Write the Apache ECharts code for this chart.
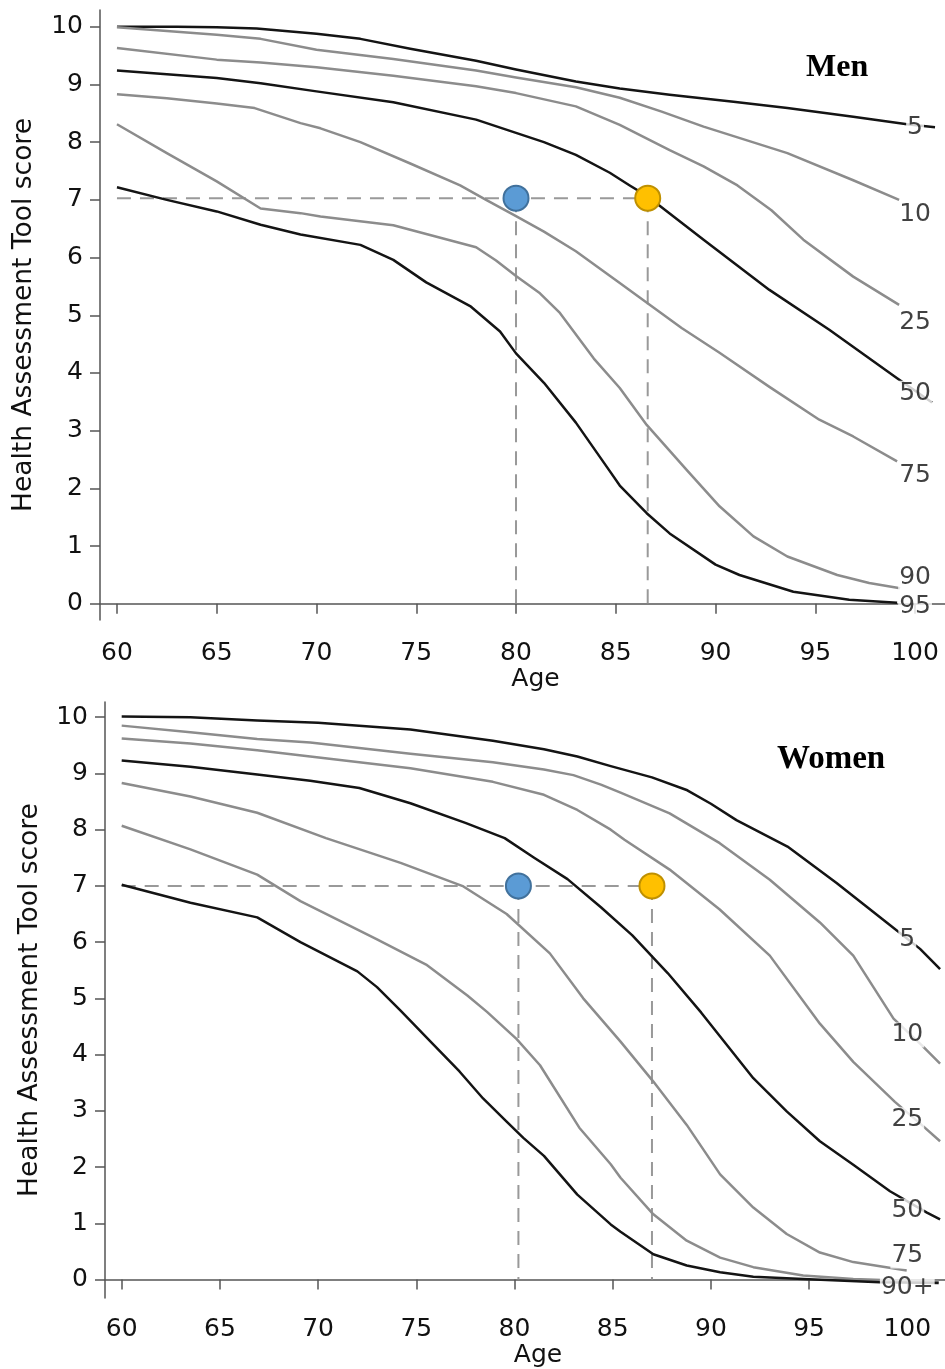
<!DOCTYPE html>
<html>
<head>
<meta charset="utf-8">
<script src="https://cdn.jsdelivr.net/npm/echarts@6/dist/echarts.min.js"></script>
<style>
  html, body { margin: 0; padding: 0; background: #fff; }
  #chart { width: 945px; height: 1369px; }
</style>
</head>
<body>
<div id="chart"></div>
<script>
// tick values
const xTicks = [60, 65, 70, 75, 80, 85, 90, 95, 100]
const yTicks = [0, 1, 2, 3, 4, 5, 6, 7, 8, 9, 10]

// percentile curves, men  [age, score]
const menP5 = [[60,10.0],[63,10.0],[65,9.99],[67,9.97],[70,9.88],[72.2,9.79],[74.7,9.62],[78,9.41],[80,9.26],[83,9.05],[85.2,8.93],[87.7,8.82],[90.9,8.70],[93.6,8.59],[96.9,8.44],[99.6,8.31],[101,8.26]]
const menP10 = [[60,9.99],[65,9.86],[67.2,9.79],[70,9.60],[73.85,9.44],[78,9.24],[80,9.12],[83,8.95],[85.2,8.77],[87.3,8.53],[89.4,8.27],[93.6,7.81],[96.9,7.34],[99.2,7.0]]
const menP25 = [[60,9.63],[65,9.43],[67.2,9.38],[70,9.30],[73.85,9.15],[78,8.97],[80,8.85],[83,8.62],[85.2,8.30],[87.7,7.86],[89.4,7.58],[91.1,7.25],[92.8,6.82],[94.4,6.31],[96.9,5.67],[99.2,5.18]]
const menP50 = [[60,9.24],[65,9.11],[67.2,9.02],[70,8.88],[73.85,8.69],[78,8.39],[80,8.16],[81.4,8.0],[83,7.78],[84.7,7.47],[85.7,7.25],[86.6,7.06],[89.4,6.31],[92.7,5.44],[95.7,4.75],[99.1,3.91],[100.85,3.49]]
const menP75 = [[60,8.83],[62.5,8.76],[65,8.67],[66.9,8.59],[69.2,8.33],[70.2,8.24],[72.2,8.0],[74.7,7.63],[77.2,7.25],[78.5,7.0],[80,6.72],[81.4,6.45],[83,6.11],[85.2,5.56],[88.3,4.78],[90.2,4.35],[92.7,3.76],[95.2,3.19],[96.9,2.90],[99.1,2.47]]
const menP90 = [[60,8.31],[62.5,7.81],[65,7.32],[67.2,6.85],[69.2,6.77],[70.2,6.71],[73.85,6.56],[78,6.18],[79,5.95],[80,5.68],[81.2,5.38],[82.2,5.04],[83.9,4.25],[85.2,3.74],[86.55,3.10],[88.55,2.32],[90.2,1.69],[91.9,1.17],[93.6,0.82],[96.1,0.50],[97.7,0.36],[99.25,0.27]]
const menP95 = [[60,7.22],[62.5,7.0],[65,6.80],[67.2,6.57],[69.2,6.40],[72.2,6.22],[73.85,5.96],[75.5,5.57],[77.7,5.16],[79.2,4.72],[80,4.34],[81.4,3.83],[83,3.14],[84.7,2.30],[85.2,2.05],[86.55,1.57],[87.7,1.22],[90,0.68],[91.2,0.50],[93.9,0.21],[96.7,0.07],[99.1,0.02]]

// percentile curves, women  [age, score]
const womenP5 = [[60,10.01],[63.5,10.0],[66.9,9.94],[70,9.9],[74.7,9.78],[78.9,9.58],[81.5,9.43],[83.2,9.3],[84.9,9.13],[87,8.93],[88.8,8.70],[90,8.46],[91.3,8.17],[93.9,7.70],[96.4,7.05],[98.95,6.35],[100.65,5.88],[101.67,5.52]]
const womenP10 = [[60,9.85],[63.5,9.73],[66.9,9.61],[69.6,9.55],[74.7,9.35],[78.9,9.20],[81.5,9.07],[83,8.97],[84.4,8.8],[85.4,8.66],[87.9,8.29],[90.45,7.76],[93,7.11],[95.55,6.35],[97.25,5.76],[99.3,4.64],[100.73,4.17],[101.67,3.84]]
const womenP25 = [[60,9.62],[63.5,9.53],[66.9,9.41],[69.6,9.30],[74.7,9.09],[78.9,8.85],[81.5,8.62],[83.2,8.35],[84.9,8.0],[85.6,7.82],[87.9,7.29],[90.45,6.58],[93,5.76],[95.55,4.55],[97.25,3.87],[99.37,3.16],[100.73,2.75],[101.67,2.46]]
const womenP50 = [[60,9.23],[63.5,9.12],[66.9,8.98],[69.6,8.87],[72.1,8.74],[74.7,8.47],[77.5,8.12],[79.5,7.85],[81,7.5],[82.7,7.12],[84.4,6.62],[86,6.12],[87.8,5.45],[89.5,4.75],[92.16,3.58],[93.86,2.99],[95.55,2.46],[97.25,2.04],[99.12,1.57],[101,1.19],[101.67,1.07]]
const womenP75 = [[60,8.83],[63.5,8.59],[66.9,8.30],[70.4,7.85],[74.2,7.41],[77.4,6.99],[79.6,6.5],[81.8,5.8],[83.5,5.0],[85.4,4.23],[87.07,3.52],[88.77,2.75],[90.47,1.87],[92.16,1.28],[93.86,0.81],[95.55,0.48],[97.25,0.31],[99.97,0.16]]
const womenP90 = [[60,8.07],[63.5,7.65],[66.9,7.2],[69.1,6.73],[73,6.05],[75.5,5.6],[77.6,5.05],[78.6,4.76],[80.1,4.28],[81.3,3.81],[83.3,2.7],[84.9,2.05],[85.4,1.81],[87.07,1.16],[88.77,0.69],[90.47,0.39],[92.16,0.22],[94.7,0.07],[97.25,0.01],[99.8,-0.02],[101.6,-0.03]]
const womenP95 = [[60,7.02],[63.5,6.70],[66.9,6.44],[69.1,6.0],[72,5.48],[73,5.2],[74.2,4.78],[75.9,4.17],[77.2,3.70],[78.4,3.22],[79.6,2.81],[80.45,2.52],[81.5,2.20],[83.2,1.51],[84.9,0.98],[85.4,0.85],[87.07,0.45],[88.77,0.25],[90.47,0.13],[92.16,0.05],[94.7,0.01],[98.6,-0.05],[101.6,-0.06]]

// curve labels at the right end [age, score, text]
const menLabels = [[100, 8.25, '5'], [100, 6.74, '10'], [100, 4.87, '25'], [100, 3.65, '50'], [100, 2.23, '75'], [100, 0.45, '90'], [100, -0.05, '95']]
const womenLabels = [[100, 6.05, '5'], [100, 4.35, '10'], [100, 2.84, '25'], [100, 1.22, '50'], [100, 0.42, '75'], [100, -0.14, '90+']]

// reference points (score 7): blue at age 80, yellow at the older age
const menPoints = [[80, 7.03], [86.6, 7.03]]
const womenPoints = [[80.2, 7.0], [87.0, 7.0]]

const chart = echarts.init(document.getElementById('chart'))

const font = 'DejaVu Sans'
const black = '#141414'
const grey = '#8c8c8c'
const ink = '#111'

function curve(data, color, g) {
  return {
    type: 'line',
    xAxisIndex: g,
    yAxisIndex: g,
    data: data,
    symbol: 'none',
    silent: true,
    z: 3,
    lineStyle: { color: color, width: 2.5, join: 'round' }
  }
}

function dashed(data, g) {
  return {
    type: 'line',
    xAxisIndex: g,
    yAxisIndex: g,
    data: data,
    symbol: 'none',
    silent: true,
    z: 2,
    lineStyle: { color: '#999', width: 2, type: [14, 9] }
  }
}

function guides(points, bottom, g) {
  const blue = points[0]
  const yel = points[1]
  return [
    dashed([[60, blue[1]], yel], g),
    dashed([blue, [blue[0], bottom]], g),
    dashed([yel, [yel[0], bottom]], g)
  ]
}

function labels(list, g) {
  return {
    type: 'scatter',
    xAxisIndex: g,
    yAxisIndex: g,
    symbolSize: 1,
    silent: true,
    z: 5,
    itemStyle: { color: 'rgba(0,0,0,0)' },
    label: {
      show: true,
      position: 'inside',
      formatter: '{b}',
      fontFamily: font,
      fontSize: 25,
      color: ink,
      backgroundColor: '#fff',
      padding: [0, 1]
    },
    data: list.map(d => ({ name: d[2], value: [d[0], d[1]] }))
  }
}

function dots(points, g) {
  return {
    type: 'scatter',
    xAxisIndex: g,
    yAxisIndex: g,
    symbolSize: 25,
    silent: true,
    z: 6,
    itemStyle: { opacity: 1 },
    data: [
      { value: points[0], itemStyle: { color: '#5B9BD5', borderColor: '#41719C', borderWidth: 2, opacity: 1 } },
      { value: points[1], itemStyle: { color: '#FFC000', borderColor: '#BF9000', borderWidth: 2, opacity: 1 } }
    ]
  }
}

function xAxis(g, max, margin, gap) {
  return {
    type: 'value',
    gridIndex: g,
    min: 59.15,
    max: max,
    name: 'Age',
    nameLocation: 'middle',
    nameGap: gap,
    nameTextStyle: { fontFamily: font, fontSize: 25, color: ink, padding: [0, 0, 0, 26] },
    splitLine: { show: false },
    axisLine: { show: true, lineStyle: { color: '#555', width: 1.5 } },
    axisTick: { show: true, length: 10, customValues: xTicks, lineStyle: { color: '#555', width: 1.5 } },
    axisLabel: { customValues: xTicks, margin: margin, fontFamily: font, fontSize: 25, color: ink }
  }
}

function yAxis(g, min, max, gap) {
  return {
    type: 'value',
    gridIndex: g,
    min: min,
    max: max,
    name: 'Health Assessment Tool score',
    nameLocation: 'middle',
    nameGap: gap,
    nameTextStyle: { fontFamily: font, fontSize: 26.5, color: ink },
    splitLine: { show: false },
    axisLine: { show: true, lineStyle: { color: '#555', width: 1.5 } },
    axisTick: { show: true, length: 10, customValues: yTicks, lineStyle: { color: '#555', width: 1.5 } },
    axisLabel: { customValues: yTicks, margin: 17, fontFamily: font, fontSize: 25, color: ink }
  }
}

const option = {
  animation: false,
  backgroundColor: '#fff',
  title: [
    {
      text: 'Men', left: 806, top: 52, padding: 0,
      textStyle: { fontFamily: 'Liberation Serif', fontWeight: 'bold', fontSize: 32, color: '#000' }
    },
    {
      text: 'Women', left: 777, top: 743, padding: 0,
      textStyle: { fontFamily: 'Liberation Serif', fontWeight: 'bold', fontSize: 33, color: '#000' }
    }
  ],
  grid: [
    { left: 100, top: 10, right: 0, height: 610 },
    { left: 105, top: 702, right: 0, height: 599 }
  ],
  xAxis: [xAxis(0, 101.5, 21, 37), xAxis(1, 101.92, 19, 40)],
  yAxis: [yAxis(0, -0.28, 10.29, 62), yAxis(1, -0.33, 10.27, 61)],
  series: [
    ...guides(menPoints, -0.1, 0),
    curve(menP5, black, 0),
    curve(menP10, grey, 0),
    curve(menP25, grey, 0),
    curve(menP50, black, 0),
    curve(menP75, grey, 0),
    curve(menP90, grey, 0),
    curve(menP95, black, 0),
    labels(menLabels, 0),
    dots(menPoints, 0),

    ...guides(womenPoints, 0, 1),
    curve(womenP5, black, 1),
    curve(womenP10, grey, 1),
    curve(womenP25, grey, 1),
    curve(womenP50, black, 1),
    curve(womenP75, grey, 1),
    curve(womenP90, grey, 1),
    curve(womenP95, black, 1),
    labels(womenLabels, 1),
    dots(womenPoints, 1)
  ]
}

chart.setOption(option)
</script>
</body>
</html>
